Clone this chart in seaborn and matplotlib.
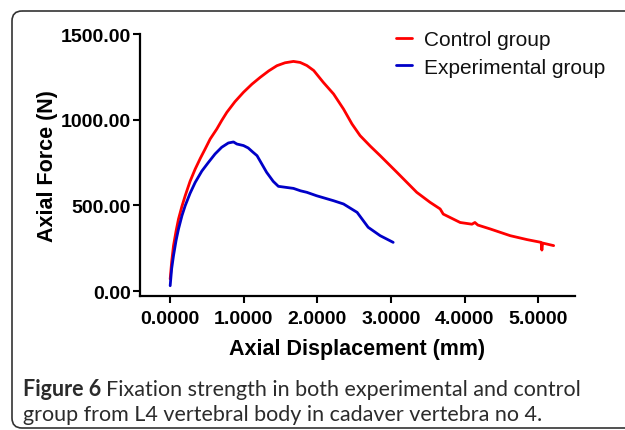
import numpy as np
import pandas as pd
import matplotlib
matplotlib.use("Agg")
import matplotlib.pyplot as plt
import seaborn as sns
from matplotlib.patches import FancyBboxPatch

# Values (displacement in mm, force in N)
control_x = [0.0, 0.02, 0.045, 0.08, 0.113, 0.16, 0.204, 0.27, 0.34, 0.41, 0.475, 0.543, 0.634,
             0.70, 0.77, 0.88, 0.996, 1.11, 1.223, 1.34, 1.45, 1.56, 1.675, 1.766, 1.857,
             1.95, 2.08, 2.22, 2.355, 2.47, 2.58, 2.72, 2.853, 3.08, 3.35, 3.53, 3.668,
             3.71, 3.94, 4.10, 4.14, 4.18, 4.35, 4.62, 4.85, 5.04, 5.05, 5.06, 5.21]
control_y = [70, 170, 264, 350, 420, 495, 556, 640, 712, 775, 829, 887, 946,
             995, 1043, 1105, 1160, 1207, 1247, 1285, 1315, 1332, 1340, 1334, 1316,
             1287, 1218, 1150, 1062, 975, 907, 845, 790, 693, 576, 518, 479,
             449, 400, 390, 400, 385, 362, 323, 300, 284, 239, 280, 265]

exp_x = [0.0, 0.02, 0.045, 0.08, 0.113, 0.16, 0.204, 0.27, 0.34, 0.43, 0.52, 0.61, 0.70,
         0.79, 0.86, 0.906, 0.996, 1.06, 1.12, 1.18, 1.31, 1.40, 1.47, 1.675, 1.77, 1.857,
         1.99, 2.22, 2.355, 2.54, 2.69, 2.853, 3.03]
exp_y = [31, 130, 206, 295, 362, 440, 498, 570, 634, 700, 751, 800, 839,
         864, 870, 858, 849, 835, 812, 790, 693, 640, 611, 599, 585, 576,
         556, 527, 508, 459, 372, 323, 284]

groups = ["Control group", "Experimental group"]
colors = {"Control group": "#ff0000", "Experimental group": "#0000c8"}

df = pd.concat([
    pd.DataFrame({"Axial Displacement (mm)": control_x, "Axial Force (N)": control_y,
                  "group": groups[0]}),
    pd.DataFrame({"Axial Displacement (mm)": exp_x, "Axial Force (N)": exp_y,
                  "group": groups[1]}),
])

sns.set_style("ticks")
plt.rcParams["font.family"] = ["Liberation Sans", "DejaVu Sans"]
plt.rcParams["text.color"] = "black"
plt.rcParams["axes.labelcolor"] = "black"
plt.rcParams["xtick.color"] = "black"
plt.rcParams["ytick.color"] = "black"

W, H = 625, 431
fig = plt.figure(figsize=(W / 100, H / 100), dpi=100)

# overlay in pixel units for the panel border (runs off the right edge)
bg = fig.add_axes([0, 0, 1, 1])
bg.set_xlim(0, W)
bg.set_ylim(H, 0)
bg.axis("off")
bg.add_patch(FancyBboxPatch((12, 12), 2000, 417, boxstyle="round,pad=0,rounding_size=10",
                            fill=False, edgecolor="#333333", linewidth=1.2, clip_on=False))

ax = fig.add_axes([140 / W, 1 - 297 / H, (575 - 140) / W, (297 - 35) / H])

sns.lineplot(data=df, x="Axial Displacement (mm)", y="Axial Force (N)", hue="group",
             palette=colors, sort=False, estimator=None, linewidth=2, ax=ax)

ax.set_xlim(-0.41, 5.5)
ax.set_ylim(-29, 1500)
ax.set_xticks([0, 1, 2, 3, 4, 5])
ax.set_xticklabels([f"{v:.4f}" for v in [0, 1, 2, 3, 4, 5]])
ax.set_yticks([0, 500, 1000, 1500])
ax.set_yticklabels([f"{v:.2f}" for v in [0, 500, 1000, 1500]])
for s in ["top", "right"]:
    ax.spines[s].set_visible(False)
for s in ["left", "bottom"]:
    ax.spines[s].set_linewidth(1.6)
    ax.spines[s].set_color("black")
ax.tick_params(axis="both", length=5, width=1.5, labelsize=14, pad=1.5)
ax.tick_params(axis="x", pad=5)
for lab in ax.get_xticklabels() + ax.get_yticklabels():
    lab.set_fontweight("bold")

ax.set_xlabel("Axial Displacement (mm)", fontsize=15.5, fontweight="bold", labelpad=8)
ax.set_ylabel("Axial Force (N)", fontsize=15.5, fontweight="bold", labelpad=2)

leg = ax.legend(loc="upper left", bbox_to_anchor=(386 / W, 1 - 21 / H),
                bbox_transform=fig.transFigure, frameon=False, fontsize=15,
                handlelength=0.75, handletextpad=0.55, labelspacing=0.4, borderpad=0)
for line in leg.get_lines():
    line.set_linewidth(2)
for t in leg.get_texts():
    t.set_color("#111111")

cap_font = ["Lato", "DejaVu Sans"]
cap_col = "#2b2b2b"
t1 = fig.text(23 / W, 1 - 390 / H, "Figure 6", fontsize=15.5, fontweight="bold",
              va="center", ha="left", color=cap_col, family=cap_font)
fig.canvas.draw()
bb = t1.get_window_extent()
fig.text((bb.x1 + 5) / W, 1 - 390 / H,
         "Fixation strength in both experimental and control",
         fontsize=15.5, va="center", ha="left", color=cap_col, family=cap_font)
fig.text(23 / W, 1 - 415 / H,
         "group from L4 vertebral body in cadaver vertebra no 4.",
         fontsize=15.5, va="center", ha="left", color=cap_col, family=cap_font)

fig.savefig("out.png", dpi=100)
